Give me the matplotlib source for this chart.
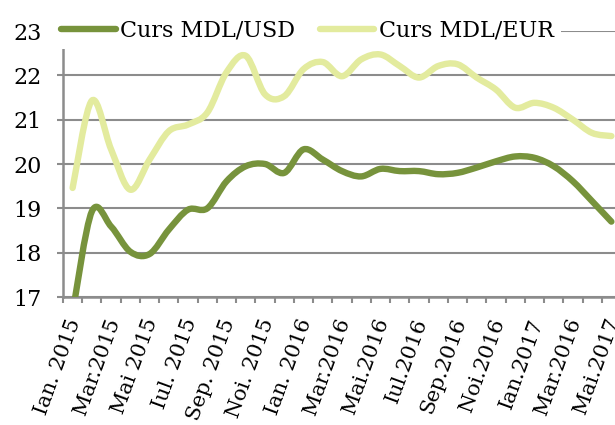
import numpy as np
import matplotlib
matplotlib.use("Agg")
import matplotlib.pyplot as plt
import matplotlib.transforms as mtransforms
from matplotlib.path import Path
from matplotlib.patches import PathPatch
from matplotlib.lines import Line2D

# luni: Ian. 2015 ... Mai 2017 (29 valori lunare)
etichete = ["Ian. 2015", "Mar.2015", "Mai 2015", "Iul. 2015", "Sep. 2015",
            "Noi. 2015", "Ian. 2016", "Mar.2016", "Mai.2016", "Iul.2016",
            "Sep.2016", "Noi.2016", "Ian.2017", "Mar.2016", "Mai.2017"]

curs_usd = [16.65, 18.93, 18.59, 18.02, 17.97, 18.52, 18.97, 19.00, 19.61,
            19.95, 20.00, 19.80, 20.33, 20.10, 19.84, 19.72, 19.89, 19.84,
            19.84, 19.77, 19.80, 19.92, 20.06, 20.17, 20.14, 19.95, 19.61,
            19.16, 18.70]

curs_eur = [19.46, 21.43, 20.33, 19.42, 20.10, 20.74, 20.89, 21.16, 22.07,
            22.44, 21.57, 21.53, 22.14, 22.30, 21.98, 22.36, 22.47, 22.21,
            21.95, 22.21, 22.25, 21.95, 21.68, 21.27, 21.38, 21.27, 21.00,
            20.70, 20.63]

verde = "#77933C"
verde_deschis = "#E3EB9E"
gri = "#8C8C8C"


# linie netezita (ca in Excel) - curbe Bezier prin puncte
def linie_neteda(ax, y, culoare):
    x = np.arange(len(y), dtype=float)
    y = np.array(y, dtype=float)
    pts = np.column_stack([x, y])
    verts = [pts[0]]
    codes = [Path.MOVETO]
    n = len(pts)
    for i in range(n - 1):
        p0 = pts[max(i - 1, 0)]
        p1 = pts[i]
        p2 = pts[i + 1]
        p3 = pts[min(i + 2, n - 1)]
        c1 = p1 + (p2 - p0) / 6.0
        c2 = p2 - (p3 - p1) / 6.0
        verts += [c1, c2, p2]
        codes += [Path.CURVE4] * 3
    patch = PathPatch(Path(verts, codes), fill=False, edgecolor=culoare,
                      lw=4.6, capstyle="round", joinstyle="round", zorder=3)
    ax.add_patch(patch)


plt.rcParams["font.family"] = ["DejaVu Serif"]

fig = plt.figure(figsize=(6.15, 4.25), dpi=100)
ax = fig.add_axes([63 / 615, 128 / 425, 558 / 615, 266 / 425])

linie_neteda(ax, curs_usd, verde)
linie_neteda(ax, curs_eur, verde_deschis)

n = len(curs_usd)
ax.set_xlim(-0.5, n - 0.5)
ax.set_ylim(17, 23)

# axa y
ax.set_yticks(range(17, 24))
ax.tick_params(axis="y", direction="out", length=4.5, width=1.5, color=gri,
               labelsize=16, pad=11)
ax.yaxis.grid(True, color=gri, lw=1.5)
ax.set_axisbelow(True)

# axa x: gradatii intre categorii, etichete la fiecare a doua luna
ax.set_xticks(np.arange(-0.5, n, 1.0))
ax.set_xticklabels([])
ax.tick_params(axis="x", which="major", direction="out", length=4.5,
               width=1.5, color=gri)
ax.set_xticks(np.arange(0, n, 2), minor=True)
ax.set_xticklabels(etichete, minor=True, rotation=70, ha="right",
                   va="center", rotation_mode="anchor", fontsize=15)
ax.tick_params(axis="x", which="minor", length=0, pad=16)
deplasare = mtransforms.ScaledTranslation(3 / 100, 0, fig.dpi_scale_trans)
for t in ax.get_xticklabels(minor=True):
    t.set_transform(t.get_transform() + deplasare)

for s in ["top", "right"]:
    ax.spines[s].set_visible(False)
for s in ["left", "bottom"]:
    ax.spines[s].set_color(gri)
    ax.spines[s].set_linewidth(1.8)

# legenda sus
h = [Line2D([], [], color=verde, lw=4.6, solid_capstyle="round"),
     Line2D([], [], color=verde_deschis, lw=4.6, solid_capstyle="round")]
leg = ax.legend(h, ["Curs MDL/USD", "Curs MDL/EUR"], ncol=2,
                loc="upper left", bbox_to_anchor=(47 / 615, 1 - 5 / 425),
                bbox_transform=fig.transFigure, frameon=True,
                facecolor="white", edgecolor="none", framealpha=1,
                fontsize=16, handlelength=2.45, handletextpad=0.2,
                columnspacing=1.1, borderpad=0.35, borderaxespad=0.3)
leg.set_zorder(10)

fig.savefig("out.png", dpi=100)
